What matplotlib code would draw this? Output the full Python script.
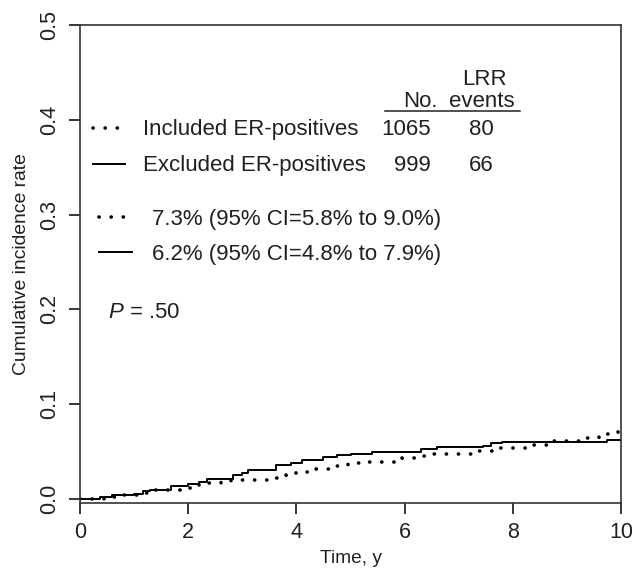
import matplotlib
matplotlib.use("Agg")
import matplotlib.pyplot as plt

plt.rcParams['font.family'] = ['Liberation Sans', 'DejaVu Sans']
plt.rcParams['mathtext.fontset'] = 'custom'
plt.rcParams['mathtext.it'] = 'Liberation Sans:italic'
plt.rcParams['mathtext.rm'] = 'Liberation Sans'

INK = '#231f20'

# Excluded ER-positives (solid), step curve
excl_t = [0, 0.37, 0.6, 1.0, 1.17, 1.3, 1.69, 2.0, 2.2, 2.35, 2.82, 3.0, 3.1,
          3.62, 3.9, 4.1, 4.5, 4.75, 5.0, 5.4, 6.3, 6.6, 7.45, 7.6, 7.8, 9.75, 10]
excl_v = [0, 0.002, 0.004, 0.005, 0.008, 0.0095, 0.014, 0.0155, 0.018, 0.021,
          0.025, 0.027, 0.0305, 0.036, 0.038, 0.041, 0.044, 0.046, 0.048,
          0.0495, 0.0526, 0.0545, 0.056, 0.0586, 0.0604, 0.062, 0.062]

# Included ER-positives (dotted), step curve
incl_t = [0, 0.45, 0.7, 1.1, 1.3, 1.8, 2.0, 2.2, 2.6, 2.8, 3.6, 3.8, 4.0, 4.25,
          4.7, 4.95, 5.3, 5.95, 6.35, 6.55, 7.3, 7.75, 8.25, 8.7, 9.3, 9.6,
          9.75, 9.95, 10]
incl_v = [0, 0.002, 0.004, 0.006, 0.009, 0.0095, 0.012, 0.0165, 0.018, 0.02,
          0.022, 0.025, 0.029, 0.032, 0.0347, 0.0375, 0.039, 0.043, 0.045,
          0.048, 0.0505, 0.054, 0.0575, 0.0614, 0.064, 0.067, 0.069, 0.073,
          0.073]

groups = ['Included ER-positives', 'Excluded ER-positives']
n_pts = ['1065', '999']
n_events = ['80', '66']
rates = ['7.3% (95% CI=5.8% to 9.0%)', '6.2% (95% CI=4.8% to 7.9%)']
p_text = '.50'

x_ticks = [0, 2, 4, 6, 8, 10]
y_ticks = [0.0, 0.1, 0.2, 0.3, 0.4, 0.5]

W, H = 632, 570
fig = plt.figure(figsize=(W / 100, H / 100), dpi=100)
L, R, T, B = 80, 621, 25, 503
ax = fig.add_axes([L / W, 1 - B / H, (R - L) / W, (B - T) / H])


def pos(px, py):
    # pixel position in the figure -> axes fraction
    return (px - L) / (R - L), (B - py) / (B - T)


dot = dict(linestyle=(0, (0.05, 3.3)), dash_capstyle='round', lw=2.6,
           color='black')
sol = dict(linestyle='-', lw=1.4, color='black')

ax.step(incl_t, incl_v, where='post', **dot)
ax.step(excl_t, excl_v, where='post', **sol)

ax.set_xlim(0, 10)
ax.set_ylim(-0.0042, 0.5)
ax.set_xticks(x_ticks)
ax.set_xticklabels([str(v) for v in x_ticks])
ax.set_yticks(y_ticks)
ax.set_yticklabels(['%.1f' % v for v in y_ticks], rotation=90, va='center')
ax.tick_params(direction='out', length=8, width=1.1, labelsize=15.5,
               labelcolor=INK, pad=6)
for s in ax.spines.values():
    s.set_linewidth(1.2)
    s.set_color('#333333')

ax.set_xlabel('Time, y', fontsize=13.8, color=INK, labelpad=5)
ax.set_ylabel('Cumulative incidence rate', fontsize=13.9, color=INK,
              labelpad=7)

fs = 16
tr = ax.transAxes

# header
ax.text(*pos(484, 85), 'LRR', transform=tr, ha='center', va='baseline',
        fontsize=fs, color=INK)
ax.text(*pos(438, 106.7), 'No.', transform=tr, ha='right', va='baseline',
        fontsize=fs, color=INK)
ax.text(*pos(482, 106.7), 'events', transform=tr, ha='center', va='baseline',
        fontsize=fs, color=INK)
x0, y0 = pos(385, 110.7)
x1, _ = pos(520, 110.7)
ax.plot([x0, x1], [y0, y0], transform=tr, color=INK, lw=1.1, clip_on=False)

rows = [135, 171]
keys = [dot, sol]
for i in range(2):
    yb = rows[i]
    ka, yk = pos(93, yb - 7)
    kb, _ = pos(125, yb - 7)
    ax.plot([ka, kb], [yk, yk], transform=tr, **keys[i])
    ax.text(*pos(143, yb), groups[i], transform=tr, ha='left', va='baseline',
            fontsize=fs, color=INK)
    ax.text(*pos(431, yb), n_pts[i], transform=tr, ha='right', va='baseline',
            fontsize=fs, color=INK)
    ax.text(*pos(481.5, yb), n_events[i], transform=tr, ha='center',
            va='baseline', fontsize=fs, color=INK)

rows2 = [225, 260]
for i in range(2):
    yb = rows2[i]
    ka, yk = pos(99, yb - 8)
    kb, _ = pos(132, yb - 8)
    ax.plot([ka, kb], [yk, yk], transform=tr, **keys[i])
    ax.text(*pos(152, yb), rates[i], transform=tr, ha='left', va='baseline',
            fontsize=fs, color=INK)

ax.text(*pos(108, 318), r'$P$ = ' + p_text, transform=tr, ha='left',
        va='baseline', fontsize=fs, color=INK)

fig.savefig('out.png', dpi=100)
